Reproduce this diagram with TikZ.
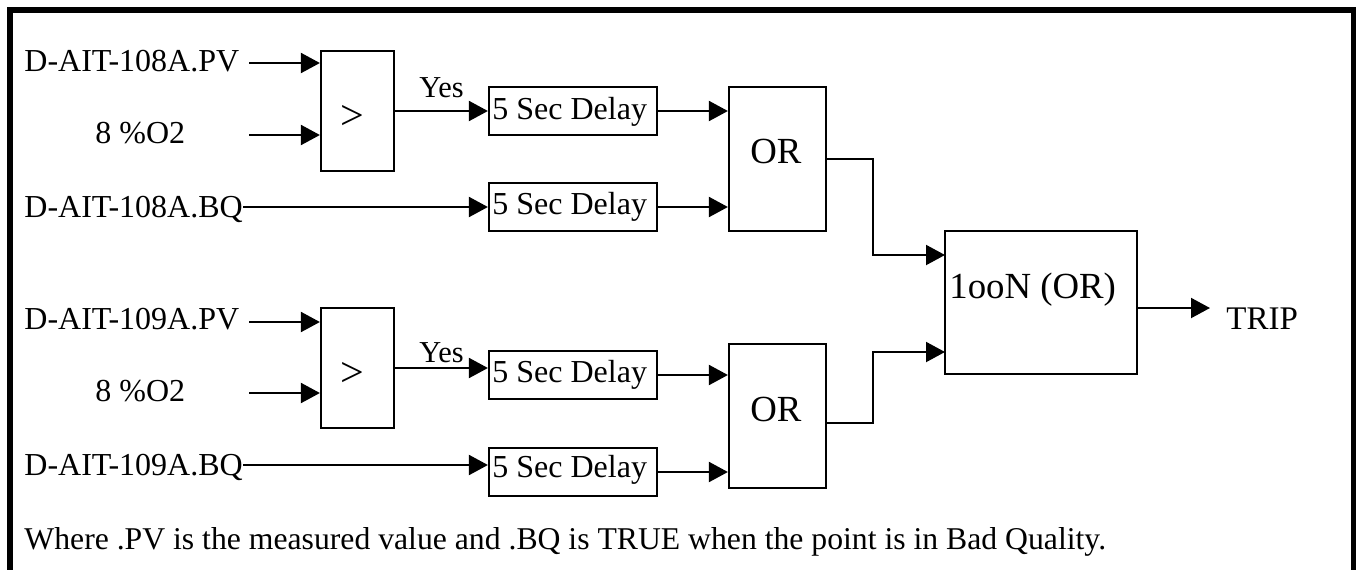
\documentclass[tikz,border=0pt]{standalone}
\usepackage{fontspec}
\setmainfont{Liberation Serif}
\usetikzlibrary{arrows.meta}
\begin{document}
\begin{tikzpicture}[x=0.5pt,y=-0.5pt,
  ln/.style={line width=1pt},
  arr/.style={line width=1pt,-{Triangle[length=9.5pt,width=10pt]}},
  boxbase/.style={draw,line width=1.1pt,inner sep=0pt},
  cmpbox/.style={boxbase,minimum width=36.5pt,minimum height=60pt},
  dlybox/.style={boxbase,minimum width=84pt,minimum height=24pt},
  orbox/.style={boxbase,minimum width=48.5pt,minimum height=72pt},
  oonbox/.style={boxbase,minimum width=96pt,minimum height=71.5pt},
  txt/.style={inner sep=0pt,anchor=base west,font=\fontsize{16}{19}\selectfont},
  notetxt/.style={inner sep=0pt,anchor=base west,font=\fontsize{15.85}{19}\selectfont},
  bigtxt/.style={inner sep=0pt,anchor=base west,font=\fontsize{18.4}{22}\selectfont},
  triptxt/.style={inner sep=0pt,anchor=base west,font=\fontsize{16.5}{20}\selectfont},
  yestxt/.style={inner sep=0pt,anchor=base west,font=\fontsize{15.2}{18}\selectfont},
  symtxt/.style={inner sep=0pt,anchor=center,font=\fontsize{21}{24}\selectfont}
]
\useasboundingbox (0,0) rectangle (1356,569);
\fill[white] (0,0) rectangle (1356,569);
\draw[line width=2.7pt,line join=miter] (10,600) -- (10,10) -- (1353.5,10) -- (1353.5,600);

% ---------- group 1 ----------
\node[txt] (l1pv) at (24,71) {D-AIT-108A.PV};
\node[txt] (l1sp) at (95,143) {8 \%O2};
\node[txt] (l1bq) at (24,217) {D-AIT-108A.BQ};
\coordinate (s1pv) at (249,63);
\coordinate (s1sp) at (249,135);
\node[cmpbox] (c1) at (357.5,111) {};
\node[symtxt] (g1) at (352.5,117) {>};
\node[dlybox] (d1a) at (573,111) {};
\node[dlybox] (d1b) at (573,207) {};
\node[txt] (t1a) at (492,119) {5 Sec Delay};
\node[txt] (t1b) at (492,214) {5 Sec Delay};
\node[yestxt] (y1) at (419,97) {Yes};
\node[orbox] (o1) at (777.5,159) {};
\node[bigtxt] (to1) at (750,163) {OR};

\draw[arr] (s1pv) -- (s1pv -| c1.west);
\draw[arr] (s1sp) -- (s1sp -| c1.west);
\draw[arr] (c1.east) -- (d1a.west);
\draw[arr] ([yshift=5pt]l1bq.base east) -- (d1b.west);
\draw[arr] (d1a.east) -- (d1a.east -| o1.west);
\draw[arr] (d1b.east) -- (d1b.east -| o1.west);

% ---------- group 2 ----------
\node[txt] (l2pv) at (24,329) {D-AIT-109A.PV};
\node[txt] (l2sp) at (95,401) {8 \%O2};
\node[txt] (l2bq) at (24,475) {D-AIT-109A.BQ};
\coordinate (s2pv) at (249,322);
\coordinate (s2sp) at (249,393);
\node[cmpbox] (c2) at (357.5,368) {};
\node[symtxt] (g2) at (352.5,374.5) {>};
\node[dlybox] (d2a) at (573,375) {};
\node[dlybox] (d2b) at (573,472) {};
\node[txt] (t2a) at (492,382) {5 Sec Delay};
\node[txt] (t2b) at (492,477) {5 Sec Delay};
\node[yestxt] (y2) at (419,362) {Yes};
\node[orbox] (o2) at (777.5,416) {};
\node[bigtxt] (to2) at (750,421) {OR};

\draw[arr] (s2pv) -- (s2pv -| c2.west);
\draw[arr] (s2sp) -- (s2sp -| c2.west);
\draw[arr] (c2.east) -- (c2.east -| d2a.west);
\coordinate (b2s) at ([yshift=5pt]l2bq.base east);
\draw[arr] (b2s) -- (b2s -| d2b.west);
\draw[arr] (d2a.east) -- (d2a.east -| o2.west);
\draw[arr] (d2b.east) -- (d2b.east -| o2.west);

% ---------- 1ooN ----------
\node[oonbox] (n) at (1041,302.5) {};
\node[bigtxt] (tn) at (949,298) {1ooN (OR)};
\coordinate (jx) at (873,0);
\coordinate (ni1) at (945,255);
\coordinate (ni2) at (945,352);
\coordinate (o2out) at (826,423);
\draw[arr] (o1.east) -| (jx |- ni1) -- (ni1);
\draw[arr] (o2out) -| (jx |- ni2) -- (ni2);
\coordinate (tripin) at (1210,308);
\draw[arr] (n.east |- tripin) -- (tripin);
\node[triptxt] (trip) at (1226,329) {TRIP};

\node[notetxt] (note) at (24,549) {Where .PV is the measured value and .BQ is TRUE when the point is in Bad Quality.};
\end{tikzpicture}
\end{document}
